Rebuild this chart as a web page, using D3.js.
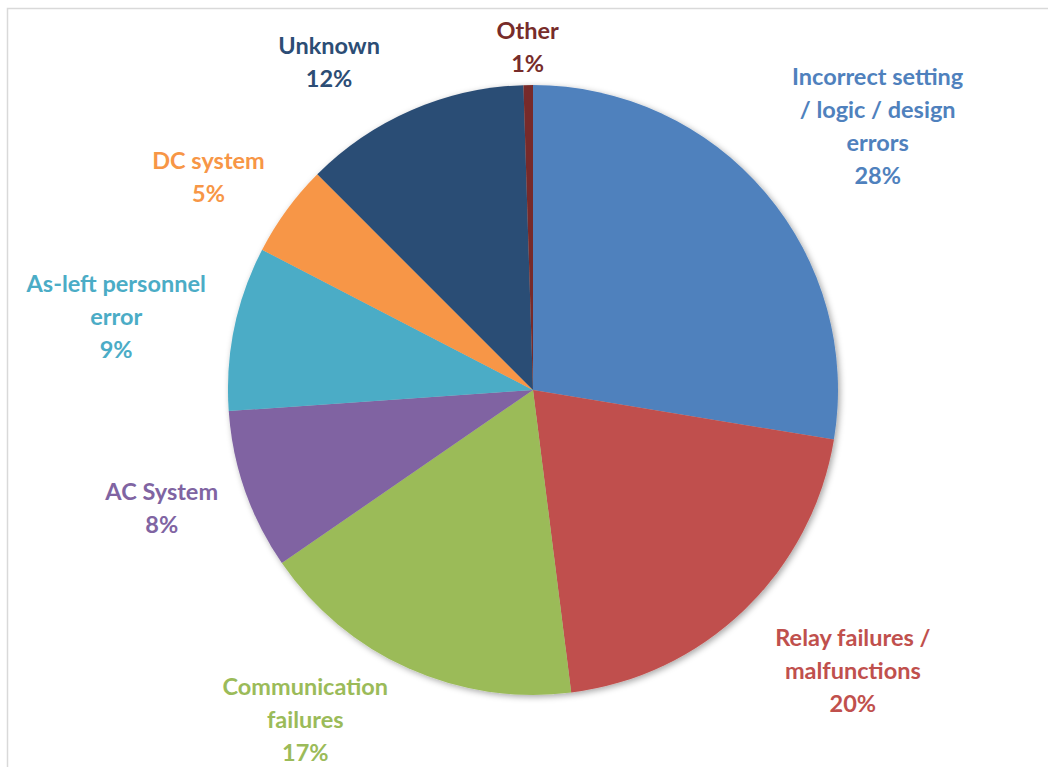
<!DOCTYPE html>
<html>
<head>
<meta charset="utf-8">
<script src="https://cdn.jsdelivr.net/npm/d3@7"></script>
<style>
  body { margin: 0; background: #fff; }
  text { font-family: Lato, "Open Sans", sans-serif; font-weight: bold; }
</style>
</head>
<body>
<svg id="chart" width="1048" height="767"></svg>
<script>
const categories = ["Incorrect setting / logic / design errors", "Relay failures / malfunctions",
    "Communication failures", "AC System", "As-left personnel error", "DC system", "Unknown", "Other"];
const values = [27.6, 20.4, 17.4, 8.5, 8.7, 4.9, 12.0, 0.5];
const shownPct = ["28%", "20%", "17%", "8%", "9%", "5%", "12%", "1%"];
const labelLines = [
    ["Incorrect setting", "/ logic / design", "errors"],
    ["Relay failures /", "malfunctions"],
    ["Communication", "failures"],
    ["AC System"],
    ["As-left personnel", "error"],
    ["DC system"],
    ["Unknown"],
    ["Other"]
];
const colors = ["#4F81BD", "#C0504D", "#9BBB59", "#8064A2", "#4BACC6", "#F79646", "#2C4D75", "#772C2A"];

// label nudges as in the original (degrees round the rim, pixels outward)
const labelTurn = [2.9, -4.8, 10.5, 1.6, -1.7, -2.9, -8.5, 0];
const labelPush = [9, 18, -3, 8, 8, 6, 15, -6];

const svg = d3.select("#chart");
const W = 1048, H = 767;
const cx = 533, cy = 390, radius = 305;
const fs = 23.5, lineH = 33, gap = 14;

// chart area frame
svg.append("rect")
    .attr("x", 7.5).attr("y", 8.5)
    .attr("width", 1100).attr("height", 800)
    .attr("fill", "none")
    .attr("stroke", "#d9d9d9")
    .attr("stroke-width", 1.5);

const defs = svg.append("defs");
defs.append("filter").attr("id", "shadow")
    .attr("x", "-10%").attr("y", "-10%").attr("width", "120%").attr("height", "120%")
    .append("feDropShadow")
    .attr("dx", 2).attr("dy", 2).attr("stdDeviation", 3)
    .attr("flood-color", "#000").attr("flood-opacity", 0.35);

const data = categories.map((c, i) => ({ name: c, value: values[i], i }));
const pie = d3.pie().value(d => d.value).sort(null);
const arcs = pie(data);
const arc = d3.arc().innerRadius(0).outerRadius(radius);

const g = svg.append("g").attr("transform", `translate(${cx},${cy})`);

g.append("g").attr("filter", "url(#shadow)")
    .selectAll("path")
    .data(arcs)
    .join("path")
    .attr("d", arc)
    .attr("fill", d => colors[d.data.i]);

// outside-end labels: box edge sits a small gap off the rim
function place(ang, w, h, extra) {
    const sx = Math.sin(ang), sy = -Math.cos(ang);
    const ext = Math.abs(sx) * w / 2 + Math.abs(sy) * h / 2;
    const d = radius + gap + ext + extra;
    return [sx * d, sy * d];
}

arcs.forEach(a => {
    const i = a.data.i;
    const lines = labelLines[i].concat([shownPct[i]]);
    const t = g.append("text")
        .attr("text-anchor", "middle")
        .attr("font-size", fs + "px")
        .attr("fill", colors[i]);
    lines.forEach((l, k) => t.append("tspan").attr("x", 0).attr("dy", k === 0 ? 0 : lineH).text(l));
    const w = d3.max(t.selectAll("tspan").nodes(), n => n.getComputedTextLength());
    const h = (lines.length - 1) * lineH + fs * 1.1;
    let ang = (a.startAngle + a.endAngle) / 2 + labelTurn[i] * Math.PI / 180;
    let [px, py] = place(ang, w, h, labelPush[i]);
    // keep inside the page bottom
    const step = ang > Math.PI ? 0.005 : -0.005;
    let n = 0;
    while (cy + py + h / 2 > H - 1 && n < 200) {
        ang += step;
        [px, py] = place(ang, w, h, labelPush[i]);
        n++;
    }
    t.attr("transform", `translate(${px},${py - h / 2 + fs * 0.9})`);
});
</script>
</body>
</html>
